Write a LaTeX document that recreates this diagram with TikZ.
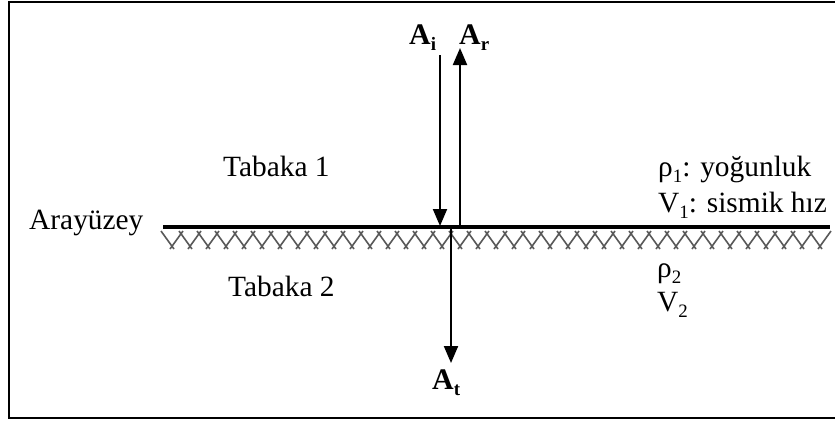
\documentclass[tikz,border=0pt]{standalone}
\usepackage{fontspec}
\setmainfont{Liberation Serif}
\usetikzlibrary{arrows.meta}
\newcommand{\subsc}[1]{\raisebox{-0.22em}{\fontsize{19}{19}\selectfont #1}}
\tikzset{
  lbl/.style={font=\fontsize{29.5}{32}\selectfont, inner sep=0pt, anchor=base west},
  blbl/.style={font=\fontsize{30}{32}\selectfont\bfseries, inner sep=0pt, anchor=base west},
  wave/.style={-{Triangle[width=14bp,length=17bp]}, line width=2bp},
  iface/.style={line width=4bp},
  frame/.style={line width=2.5bp},
  zig/.style={gray!70!black, line width=1.6bp, line cap=butt}
}
\begin{document}
\begin{tikzpicture}[x=1bp, y=-1bp]
\useasboundingbox (0,0) rectangle (835,421);
\fill[white] (0,0) rectangle (835,421);
% frame
\draw[frame] (840,2) -- (9,2) -- (9,418) -- (840,418);
% interface
\coordinate (L) at (163,227);
\coordinate (R) at (830,227);
\draw[iface] (L) -- (R);
% zigzag band
\foreach \i in {0,...,36} {
  \pgfmathsetmacro{\xa}{163+18*\i}
  \draw[zig] (\xa-2,231) -- (\xa+11,249);
  \draw[zig] (\xa+7,249) -- (\xa+20,231);
}
% labels
\node[blbl] (Ai) at (409,44) {A\subsc{i}};
\node[blbl] (Ar) at (459,44) {A\subsc{r}};
\node[blbl] (At) at (432,389) {A\subsc{t}};
\node[lbl] (tab1) at (223,176) {Tabaka 1};
\node[lbl] (tab2) at (228,296) {Tabaka 2};
\node[lbl] (ara) at (29,229) {Arayüzey};
\node[lbl] (rho1) at (658,176) {ρ\subsc{1}: yoğunluk};
\node[lbl] (v1) at (658,212) {V\subsc{1}: sismik hız};
\node[lbl] (rho2) at (657,277) {ρ\subsc{2}};
\node[lbl] (v2) at (657,311) {V\subsc{2}};
% arrows
\coordinate (i0) at (440,55);
\coordinate (i1) at (440,226);
\coordinate (r0) at (460,228);
\coordinate (r1) at (460,48);
\coordinate (t0) at (451,228);
\coordinate (t1) at (451,363);
\draw[wave] (i0) -- (i1);
\draw[wave] (r0) -- (r1);
\draw[wave] (t0) -- (t1);
\end{tikzpicture}
\end{document}
